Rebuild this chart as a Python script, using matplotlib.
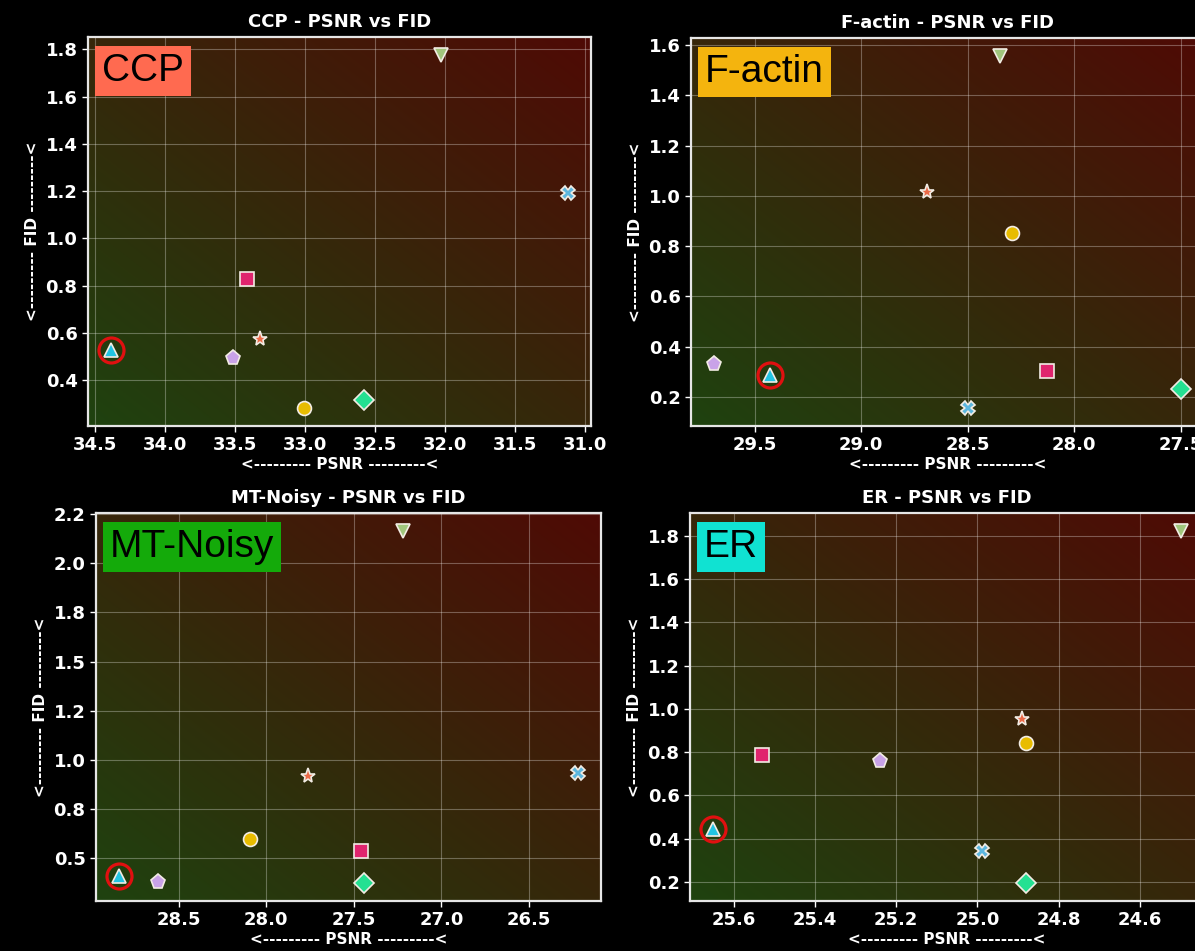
#!/usr/bin/env python3
"""
PSNR vs FID scatter, one panel per structure (CCP, F-actin, MT-Noisy, ER).
Lower-left (high PSNR, low FID) is better, so x is inverted and the panel
background fades from green (good) to red (bad).
"""

import numpy as np
import matplotlib
matplotlib.use('Agg')
import matplotlib.pyplot as plt
from matplotlib.ticker import FormatStrFormatter, MultipleLocator

# marker order is the same in every panel; the first one is circled
markers = ['^', 'p', '*', 's', 'o', 'D', 'X', 'v']
marker_colors = ['#22c4e2', '#c9a2e8', '#ec6a48', '#e0246e',
                 '#e8bc00', '#24e092', '#5cb6de', '#a0c67c']
marker_sizes = [10, 11, 11, 10, 10, 10, 10, 10]

datasets = ['CCP', 'F-actin', 'MT-Noisy', 'ER']
box_colors = ['#ff6a50', '#f4b40e', '#14aa0a', '#10e2d2']

ccp_psnr = [34.39, 33.52, 33.32, 33.42, 33.01, 32.58, 31.12, 32.03]
ccp_fid = [0.527, 0.492, 0.573, 0.828, 0.281, 0.315, 1.191, 1.777]

factin_psnr = [29.43, 29.69, 28.69, 28.13, 28.29, 27.50, 28.50, 28.35]
factin_fid = [0.286, 0.330, 1.015, 0.303, 0.854, 0.233, 0.154, 1.558]

mt_psnr = [28.84, 28.62, 27.76, 27.46, 28.09, 27.44, 26.22, 27.22]
mt_fid = [0.412, 0.378, 0.918, 0.537, 0.601, 0.373, 0.933, 2.166]

er_psnr = [25.65, 25.24, 24.89, 25.53, 24.88, 24.88, 24.99, 24.50]
er_fid = [0.444, 0.759, 0.951, 0.785, 0.842, 0.194, 0.343, 1.823]

psnr_all = [ccp_psnr, factin_psnr, mt_psnr, er_psnr]
fid_all = [ccp_fid, factin_fid, mt_fid, er_fid]

# tick spacing per panel (x, y)
tick_steps = [(0.5, 0.2), (0.5, 0.2), (0.5, 0.25), (0.2, 0.2)]

W, H = 1195, 951
# axes boxes in pixels: left, right, top, bottom
boxes_px = [(88, 591, 37, 426), (691, 1204, 38, 426),
            (96, 601, 513, 901), (690, 1204, 513, 901)]


def gradient_image(n=200):
    """Diagonal blend: dark green bottom-left -> dark red top-right."""
    green = np.array([0.12, 0.26, 0.06])
    red = np.array([0.31, 0.04, 0.02])
    xx, yy = np.meshgrid(np.linspace(0, 1, n), np.linspace(0, 1, n))
    t = (xx + yy) / 2.0
    return green * (1 - t[..., None]) + red * t[..., None]


def draw_panel(ax, name, box_color, psnr, fid, steps):
    for i, m in enumerate(markers):
        ax.plot(psnr[i], fid[i], marker=m, linestyle='none',
                markersize=marker_sizes[i], markerfacecolor=marker_colors[i],
                markeredgecolor='#f2ece4', markeredgewidth=1.2, zorder=3)
    # highlight the first method
    ax.plot(psnr[0], fid[0], marker='o', linestyle='none', markersize=18,
            markerfacecolor='none', markeredgecolor='#e01010',
            markeredgewidth=2.3, zorder=4)

    xlim = ax.get_xlim()
    ylim = ax.get_ylim()
    ax.imshow(gradient_image(), extent=[0, 1, 0, 1], transform=ax.transAxes,
              origin='lower', aspect='auto', zorder=0)
    ax.set_xlim(xlim[1], xlim[0])  # inverted: high PSNR on the left
    ax.set_ylim(ylim)

    ax.xaxis.set_major_locator(MultipleLocator(steps[0]))
    ax.yaxis.set_major_locator(MultipleLocator(steps[1]))
    ax.xaxis.set_major_formatter(FormatStrFormatter('%.1f'))
    ax.yaxis.set_major_formatter(FormatStrFormatter('%.1f'))

    ax.set_axisbelow(True)
    ax.grid(True, color='white', alpha=0.3, linewidth=0.8)
    for s in ax.spines.values():
        s.set_color('#e6e6e6')
        s.set_linewidth(1.6)
    ax.tick_params(colors='white', labelsize=13, length=4, width=1)
    for lab in ax.get_xticklabels() + ax.get_yticklabels():
        lab.set_fontweight('bold')

    ax.set_title(f'{name} - PSNR vs FID', color='white', fontsize=13,
                 fontweight='bold', pad=7)
    ax.set_xlabel('<--------- PSNR ---------<', color='white', fontsize=11,
                  fontweight='bold', labelpad=2)
    ax.set_ylabel('<--------- FID ---------<', color='white', fontsize=11,
                  fontweight='bold', labelpad=4)

    ax.annotate(name, xy=(0, 1), xycoords='axes fraction',
                xytext=(14, -16), textcoords='offset pixels',
                ha='left', va='top', fontsize=28, color='black',
                family='Liberation Sans', zorder=5,
                bbox=dict(boxstyle='square,pad=0.18', facecolor=box_color,
                          edgecolor='none'))


fig = plt.figure(figsize=(W / 100, H / 100), dpi=100, facecolor='black')
for k in range(4):
    l, r, t, b = boxes_px[k]
    ax = fig.add_axes([l / W, (H - b) / H, (r - l) / W, (b - t) / H])
    draw_panel(ax, datasets[k], box_colors[k], psnr_all[k], fid_all[k],
               tick_steps[k])

fig.savefig('out.png', dpi=100, facecolor='black')
plt.close(fig)
